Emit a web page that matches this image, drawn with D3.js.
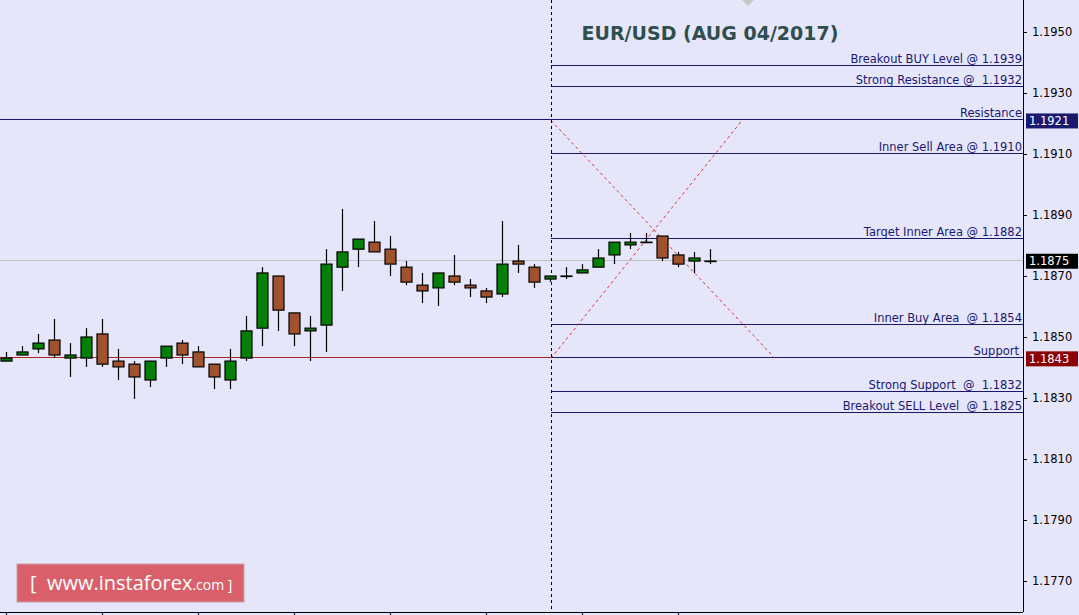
<!DOCTYPE html>
<html>
<head>
<meta charset="utf-8">
<script src="https://cdn.jsdelivr.net/npm/d3@7"></script>
<style>
  body { margin: 0; background: #e6e6fa; }
  svg { display: block; }
  text { white-space: pre; }
</style>
</head>
<body>
<svg id="chart" width="1079" height="615"></svg>
<script>
// candles: open, high, low, close
const opens  = [1.18421,1.18441,1.18461,1.18490,1.18431,1.18431,1.18510,1.18421,1.18411,1.18359,1.18431,1.18480,1.18451,1.18411,1.18359,1.18431,1.18529,1.18700,1.18579,1.18520,1.18539,1.18729,1.18788,1.18811,1.18788,1.18729,1.18670,1.18661,1.18700,1.18670,1.18651,1.18641,1.18749,1.18729,1.18690,1.18700,1.18710,1.18729,1.18769,1.18802,1.18811,1.18831,1.18769,1.18749,1.18749]
const highs  = [1.18451,1.18470,1.18510,1.18559,1.18480,1.18529,1.18559,1.18461,1.18421,1.18421,1.18470,1.18490,1.18470,1.18411,1.18461,1.18569,1.18729,1.18700,1.18579,1.18569,1.18788,1.18920,1.18821,1.18880,1.18831,1.18749,1.18710,1.18710,1.18769,1.18690,1.18661,1.18880,1.18802,1.18739,1.18700,1.18729,1.18739,1.18788,1.18811,1.18841,1.18841,1.18831,1.18779,1.18779,1.18788]
const lows   = [1.18421,1.18441,1.18447,1.18431,1.18369,1.18402,1.18402,1.18359,1.18297,1.18336,1.18402,1.18411,1.18402,1.18329,1.18329,1.18421,1.18470,1.18520,1.18470,1.18421,1.18451,1.18651,1.18729,1.18779,1.18700,1.18670,1.18611,1.18602,1.18670,1.18631,1.18611,1.18631,1.18710,1.18661,1.18680,1.18690,1.18710,1.18729,1.18739,1.18788,1.18811,1.18749,1.18729,1.18710,1.18739]
const closes = [1.18431,1.18451,1.18480,1.18441,1.18441,1.18500,1.18411,1.18402,1.18369,1.18421,1.18470,1.18441,1.18402,1.18369,1.18421,1.18520,1.18710,1.18588,1.18510,1.18529,1.18739,1.18779,1.18821,1.18779,1.18739,1.18680,1.18651,1.18710,1.18680,1.18661,1.18631,1.18739,1.18739,1.18680,1.18700,1.18700,1.18720,1.18759,1.18811,1.18811,1.18811,1.18759,1.18739,1.18759,1.18749]

// trade levels drawn from the dashed divider
const levelNames  = ['Breakout BUY Level @ 1.1939','Strong Resistance @  1.1932','Inner Sell Area @ 1.1910','Target Inner Area @ 1.1882','Inner Buy Area  @ 1.1854','Strong Support  @  1.1832','Breakout SELL Level  @ 1.1825']
const levelValues = [1.1939,1.1932,1.1910,1.1882,1.1854,1.1832,1.1825]
const resistance = 1.1921, support = 1.1843, lastPrice = 1.1875
const yTicks = [1.1950,1.1930,1.1910,1.1890,1.1870,1.1850,1.1830,1.1810,1.1790,1.1770]

const svg = d3.select('#chart')
const W = 1023, H = 612
const y = d3.scaleLinear().domain([1.1770, 1.1950]).range([581, 32])
const x = d3.scaleLinear().domain([0, 1]).range([6, 22]) // 16px per bar
const divX = x(34) + 1
const py = v => Math.round(y(v)) - .5

svg.append('rect').attr('width', 1079).attr('height', 615).attr('fill', '#e6e6fa')

// last price grey line
svg.append('line').attr('x1', 0).attr('x2', W).attr('y1', py(lastPrice)).attr('y2', py(lastPrice)).attr('stroke', '#c0c0c0')

// resistance & support full width
svg.append('line').attr('x1', 0).attr('x2', W).attr('y1', py(resistance)).attr('y2', py(resistance)).attr('stroke', '#191970')
svg.append('line').attr('x1', 0).attr('x2', divX).attr('y1', py(support)).attr('y2', py(support)).attr('stroke', '#b22222')
svg.append('line').attr('x1', divX).attr('x2', W).attr('y1', py(support)).attr('y2', py(support)).attr('stroke', '#191970')

const lbl = (xx, yy, t) => svg.append('text').attr('x', xx).attr('y', yy).attr('text-anchor', 'end')
  .attr('font-family', 'DejaVu Sans').attr('font-size', 11.5).attr('fill', '#191970').text(t)

// levels
levelValues.forEach((v, i) => {
  svg.append('line').attr('x1', divX).attr('x2', W).attr('y1', py(v)).attr('y2', py(v)).attr('stroke', '#191970')
  lbl(W - 1, py(v) - 3, levelNames[i])
})
lbl(W - 1, py(resistance) - 3, 'Resistance')
lbl(W - 4, py(support) - 3, 'Support')

// red dashed X
svg.append('line').attr('x1', divX).attr('y1', y(resistance)).attr('x2', 775).attr('y2', y(support))
  .attr('stroke', '#e03030').attr('stroke-dasharray', '3,3')
svg.append('line').attr('x1', divX).attr('y1', y(support)).attr('x2', 742).attr('y2', y(resistance))
  .attr('stroke', '#e03030').attr('stroke-dasharray', '3,3')

// vertical divider
svg.append('line').attr('x1', divX + .5).attr('x2', divX + .5).attr('y1', 0).attr('y2', H)
  .attr('stroke', '#000').attr('stroke-dasharray', '3,3')

// candles
const idx = d3.range(opens.length)
const g = svg.append('g')
g.selectAll('line.wick').data(idx).enter().append('line')
  .attr('x1', i => x(i) + .5).attr('x2', i => x(i) + .5)
  .attr('y1', i => y(highs[i])).attr('y2', i => y(lows[i]))
  .attr('stroke', '#000').attr('stroke-width', 1.2)
g.selectAll('rect.body').data(idx).enter().append('rect')
  .attr('x', i => x(i) - 5).attr('width', 11)
  .attr('y', i => y(Math.max(opens[i], closes[i])))
  .attr('height', i => Math.max(0.5, Math.abs(y(opens[i]) - y(closes[i]))))
  .attr('fill', i => closes[i] > opens[i] ? '#008000' : (closes[i] < opens[i] ? '#a0522d' : '#000'))
  .attr('stroke', '#000').attr('stroke-width', 1.2)

// frame
svg.append('line').attr('x1', W + .5).attr('x2', W + .5).attr('y1', 0).attr('y2', H).attr('stroke', '#000')
svg.append('line').attr('x1', 0).attr('x2', W).attr('y1', H + .5).attr('y2', H + .5).attr('stroke', '#000')

// right axis
const yAxis = d3.axisRight(y).tickValues(yTicks).tickFormat(d3.format('.4f')).tickSize(4)
const ax = svg.append('g').attr('transform', `translate(${W},0)`).call(yAxis)
ax.select('.domain').remove()
ax.selectAll('text').attr('font-family', 'DejaVu Sans').attr('font-size', 11.5).attr('fill', '#000').attr('dx', 2)

// bottom ticks every 6 bars
const xt = d3.range(0, opens.length, 6)
svg.selectAll('line.xt').data(xt).enter().append('line')
  .attr('x1', i => x(i) + .5).attr('x2', i => x(i) + .5).attr('y1', H).attr('y2', 615).attr('stroke', '#000')

// price tags
const tags = [[resistance, '#191970'], [support, '#8b0000'], [lastPrice, '#000']]
tags.forEach(([v, c]) => {
  svg.append('rect').attr('x', W + 3).attr('y', y(v) - 7).attr('width', 52).attr('height', 15).attr('fill', c)
  svg.append('text').attr('x', W + 6).attr('y', y(v) + 4.5).attr('font-family', 'DejaVu Sans').attr('font-size', 11.5)
    .attr('fill', '#fff').text(d3.format('.4f')(v))
})

// small triangle at top
svg.append('path').attr('d', 'M742,0 L754,0 L748,6 Z').attr('fill', '#c8c8c8')

// title
svg.append('text').attr('x', 710).attr('y', 40).attr('text-anchor', 'middle')
  .attr('font-family', 'DejaVu Sans').attr('font-weight', 'bold').attr('font-size', 19).attr('fill', '#2f4f4f')
  .text('EUR/USD (AUG 04/2017)')

// watermark
svg.append('rect').attr('x', 17).attr('y', 564).attr('width', 227).attr('height', 38)
  .attr('fill', '#d9606a').attr('stroke', '#c8a0a0')
svg.append('text').attr('x', 30).attr('y', 590).attr('font-family', 'Open Sans').attr('font-size', 20).attr('fill', '#fff')
  .text('[  www.instaforex').append('tspan').attr('font-size', 14).text('.com ]')
</script>
</body>
</html>
